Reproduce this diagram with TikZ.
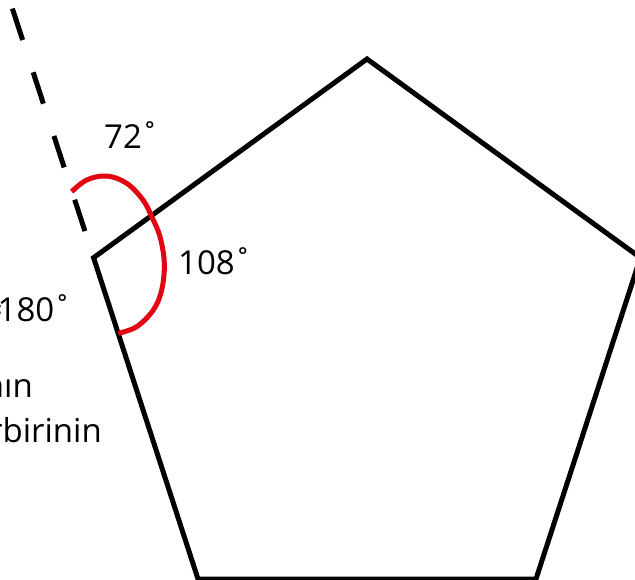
\documentclass[tikz,border=0pt]{standalone}
\usepackage{fontspec}
\setmainfont{Open Sans}
\definecolor{arcred}{RGB}{226,6,19}
\newcommand{\dg}{\kern-1.5pt˚}
\begin{document}
\begin{tikzpicture}[x=1pt,y=-1pt,
  edge/.style={line width=5pt,black},
  dashedge/.style={line width=5pt,black,dash pattern=on 33pt off 34pt,dash phase=39pt},
  anglearc/.style={line width=5pt,arcred},
  lbl/.style={inner sep=0pt,font=\fontsize{33}{40}\selectfont},
  txt/.style={inner sep=0pt,font=\fontsize{33}{40}\selectfont}]
\useasboundingbox (0,0) rectangle (635,580);
\clip (0,0) rectangle (635,580);
\coordinate (T) at (367,59);
\coordinate (R) at (640.4,257.7);
\coordinate (BR) at (536,579);
\coordinate (BL) at (198,579);
\coordinate (L) at (93.6,257.7);
\coordinate (E) at (6.8,-8.6);
\draw[edge] (T) -- (R) -- (BR) -- (BL) -- (L) -- cycle;
\draw[dashedge] (L) -- (E);
\draw[anglearc] plot[smooth,tension=0.6] coordinates {(71.7,191.7) (86.7,180) (106.7,176) (126.7,183.3) (143,200) (151.7,216.7) (160,236.7) (164.3,263.3) (161.7,290) (153.3,310) (136.7,326.7) (118.3,333.3)};
\node[lbl,anchor=base west] (a72) at (104,149) {72\dg};
\node[lbl,anchor=base west] (a108) at (178,275) {108\dg};
\node[lbl,anchor=base east] (a180) at (72,322) {=\kern-5pt 180\dg};
\node[txt,anchor=base east] (l1) at (33,397) {açılarının};
\node[txt,anchor=base east] (l2) at (102,442) {birbirinin};
\end{tikzpicture}
\end{document}
